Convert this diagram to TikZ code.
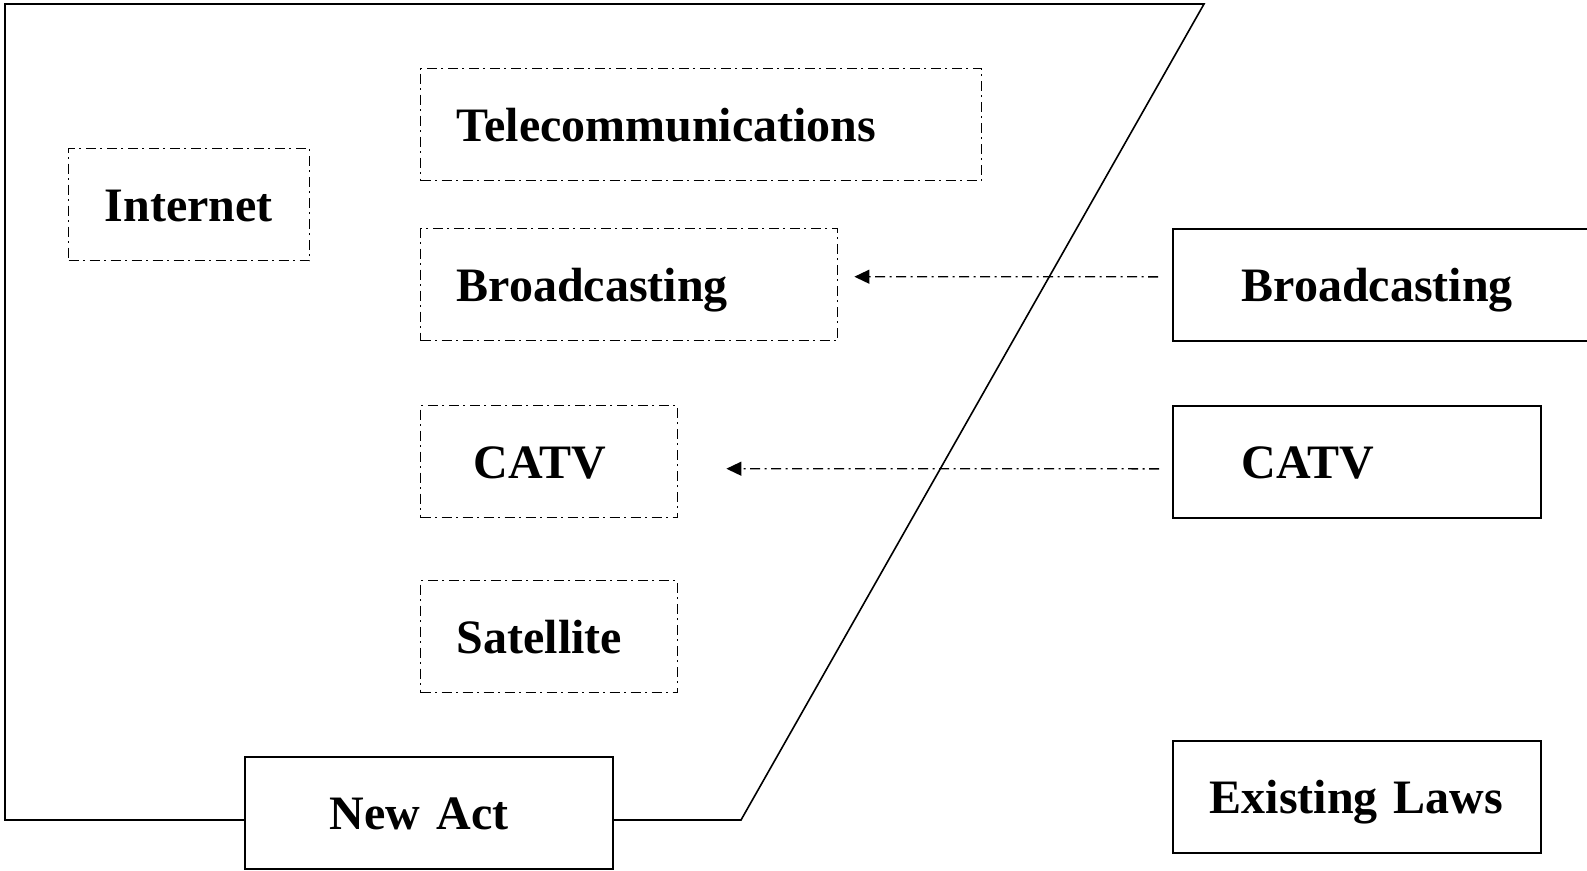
\documentclass[tikz,border=0pt]{standalone}
\usepackage{fontspec}
\setmainfont{Liberation Serif}
\usetikzlibrary{arrows.meta}
\tikzset{
    boxn/.style = {draw=black, solid, line width=1.6pt, anchor=north west, align=left, minimum height=112pt, inner ysep=2pt, text height=34pt, text depth=0pt, text=black},
    boxd/.style = {boxn, line width=1.4pt, dash pattern=on 10pt off 4.5pt on 2pt off 4.5pt},
    edged/.style = {-{Triangle[length=15pt,width=14pt]}, line width=1.4pt, black, dash pattern=on 10pt off 4.5pt on 2pt off 4.5pt},
    every picture/.style={font issue=\bfseries\fontsize{48}{56}},
    font issue/.style={execute at begin picture={#1\selectfont}}
}
\begin{document}
\begin{tikzpicture}[x=1pt,y=-1pt]
    \useasboundingbox (0,0) rectangle (1587,870);
    % scope of the new act
    \draw[line width=1.6pt, line join=miter] (5,4) -- (1204,4) -- (741,820) -- (5,820) -- cycle;
    \node[boxd, text width=169pt, inner xsep=36pt] (inet) at (68,148) {Internet};
    \node[boxd, text width=489pt, inner xsep=36pt] (tele) at (420,68) {Telecommunications};
    \node[boxd, text width=345pt, inner xsep=36pt] (broad) at (420,228) {Broadcasting};
    \node[boxd, text width=151pt, inner xsep=53pt] (catv) at (420,405) {CATV};
    \node[boxd, text width=185pt, inner xsep=36pt] (sat) at (420,580) {Satellite};
    \node[boxn, fill=white, text width=198pt, inner xsep=85pt] (act) at (244,756) {New Act};
    % existing laws
    \node[boxn, text width=302pt, inner xsep=69pt] (rbroad) at (1172,228) {Broadcasting};
    \node[boxn, text width=230pt, inner xsep=69pt] (rcatv) at (1172,405) {CATV};
    \node[boxn, text width=294pt, inner xsep=37pt] (laws) at (1172,740) {Existing Laws};
    \draw[edged] ([xshift=-14pt,yshift=8pt]rbroad.west) -- ([xshift=16pt,yshift=8pt]broad.east);
    \draw[edged] ([xshift=-13pt,yshift=-7pt]rcatv.west) -- ([xshift=48pt,yshift=-7pt]catv.east);
\end{tikzpicture}
\end{document}
